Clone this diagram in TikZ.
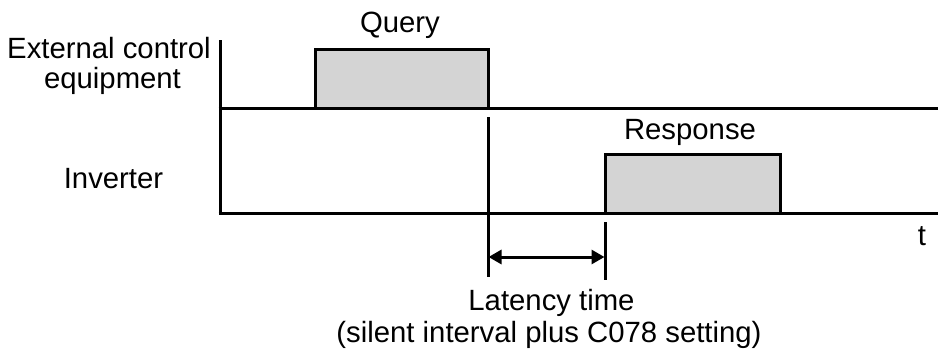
\documentclass[tikz,border=0pt]{standalone}
\usepackage{fontspec}
\setmainfont{Liberation Sans}
\usetikzlibrary{arrows.meta}
\definecolor{boxfill}{RGB}{212,212,212}
\tikzset{
  wire/.style={line width=3pt},
  pulse/.style={line width=3pt, fill=boxfill, line join=miter},
  lbl/.style={inner sep=0pt, anchor=base, font=\fontsize{29.3}{32}\selectfont},
  dim/.style={line width=3pt, {Triangle[length=13pt,width=14pt]}-{Triangle[length=13pt,width=14pt]}, shorten <=-1pt, shorten >=-1pt}
}
\begin{document}
\begin{tikzpicture}[x=1pt,y=-1pt]
\useasboundingbox (0,0) rectangle (938,351);
% axes
\coordinate (axtop) at (220,40);
\coordinate (axbot) at (220,214.5);
\coordinate (l1a) at (218.5,108);
\coordinate (l1b) at (938,108);
\coordinate (l2a) at (218.5,213);
\coordinate (l2b) at (938,213);
\draw[wire] (axtop) -- (axbot);
% pulses
\draw[pulse] (315,108) -- (315,49) -- (488,49) -- (488,108);
\draw[pulse] (605,213) -- (605,154) -- (780,154) -- (780,213);
\draw[wire] (l1a) -- (l1b);
\draw[wire] (l2a) -- (l2b);
% latency markers
\coordinate (m1a) at (488,117);
\coordinate (m1b) at (488,277);
\coordinate (m2a) at (605,222);
\coordinate (m2b) at (605,280);
\draw[wire] (m1a) -- (m1b);
\draw[wire] (m2a) -- (m2b);
\coordinate (arrL) at (489.5,257);
\coordinate (arrR) at (603.5,257);
\draw[dim] (arrL) -- (arrR);
% labels
\node[lbl] (query) at (400,32) {Query};
\node[lbl, anchor=base east] (ext) at (211,58) {External control};
\node[lbl] (equip) at (112.5,88) {equipment};
\node[lbl] (inv) at (113.5,188) {Inverter};
\node[lbl] (resp) at (690,139) {Response};
\node[lbl] (t) at (922,245) {t};
\node[lbl] (lat) at (551.5,310) {Latency time};
\node[lbl] (sil) at (549,342) {(silent interval plus C078 setting)};
\end{tikzpicture}
\end{document}
